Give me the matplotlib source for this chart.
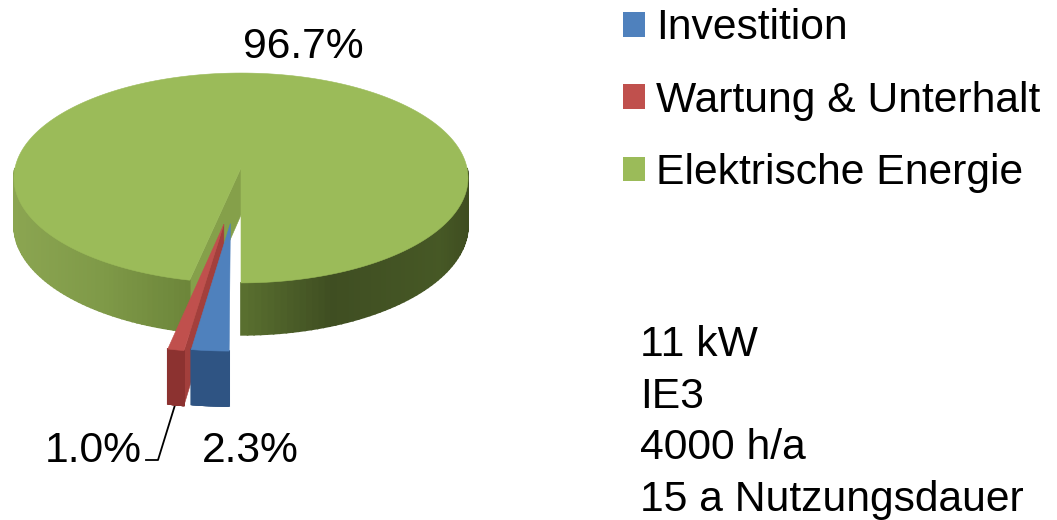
import math
import matplotlib
matplotlib.use('Agg')
import matplotlib.pyplot as plt
from matplotlib.patches import Patch

names = ['Investition', 'Wartung & Unterhalt', 'Elektrische Energie']
shares = [2.3, 1.0, 96.7]
share_labels = ['2.3%', '1.0%', '96.7%']
notes = ['11 kW', 'IE3', '4000 h/a', '15 a Nutzungsdauer']

top_colors = ['#4f81bd', '#c0504d', '#9bbb59']
front_colors = ['#2f5483', '#8c3230', '#6c853a']
cut_colors = ['#3f6ca3', '#a33f3c', '#85a04a']

# Seitenwand gruen: (x in Pixel, Farbe)
wall_stops = [(14, '#8ba551'), (100, '#7f9a48'), (190, '#6c853a'), (241, '#5a7030'),
              (330, '#3f4e22'), (440, '#465825'), (468, '#3f4d20')]

CX, CY = 241, 168   # Mitte der Torte
R = 226
SQUASH = 104        # Hoehe der Ellipse
PERSP = 0.095
DEPTH = 47
EXPLODE = [0.51, 0.52, 0.0]
NUDGE = [0.9, -2.1, 0.0]    # Richtung der Explosion, Grad


def project(a, r, e_a, e, z=0):
    # a im Uhrzeigersinn von oben, Grad
    u = r * math.sin(math.radians(a)) + e * math.sin(math.radians(e_a))
    v = -r * math.cos(math.radians(a)) - e * math.cos(math.radians(e_a))
    s = 1 / (1 - PERSP * v)
    return CX + R * u * s, CY + SQUASH * v * s + z * DEPTH * s


def wall_color(x):
    for (x0, c0), (x1, c1) in zip(wall_stops, wall_stops[1:]):
        if x <= x1:
            t = max(0, (x - x0) / (x1 - x0))
            a = matplotlib.colors.to_rgb(c0)
            b = matplotlib.colors.to_rgb(c1)
            return [a[i] + (b[i] - a[i]) * t for i in range(3)]
    return wall_stops[-1][1]


def draw_poly(ax, pts, color, zorder, lw=0.4):
    ax.fill([p[0] for p in pts], [p[1] for p in pts], color=color, lw=lw, zorder=zorder)


def steps(a0, a1, n):
    return [a0 + (a1 - a0) * i / n for i in range(n + 1)]


fig = plt.figure(figsize=(10.57, 5.20), dpi=100)
ax = fig.add_axes([0, 0, 1, 1])
ax.set_xlim(0, 1057)
ax.set_ylim(520, 0)
ax.axis('off')
plt.rcParams['font.family'] = ['Liberation Sans', 'DejaVu Sans']

# Winkel aus den Werten, erstes Stueck beginnt unten
start = 180
order = [2, 1, 0]   # von hinten nach vorne
angles = {}
for i, v in enumerate(shares):
    angles[i] = (start, start + v * 3.6)
    start += v * 3.6

for z, i in enumerate(order):
    a0, a1 = angles[i]
    mid = (a0 + a1) / 2 + NUDGE[i]
    e = EXPLODE[i]
    base = 2 + z * 5

    # Schnittflaeche links (sichtbar bei a0 > 180)
    if a0 > 180:
        pts = [project(a0, 0, mid, e), project(a0, 1, mid, e), project(a0, 1, mid, e, 1), project(a0, 0, mid, e, 1)]
        draw_poly(ax, pts, cut_colors[i], base)

    # Aussenwand, nur die vordere Haelfte
    if i == 2:
        arcs = [(a0, 270), (90, 180)]
    else:
        arcs = [(a0, a1)]
    for lo, hi in arcs:
        angs = steps(lo, hi, 60)
        for b0, b1 in zip(angs, angs[1:]):
            p0 = project(b0, 1, mid, e)
            p1 = project(b1, 1, mid, e)
            q0 = project(b0, 1, mid, e, 1)
            q1 = project(b1, 1, mid, e, 1)
            col = wall_color((p0[0] + p1[0]) / 2) if i == 2 else front_colors[i]
            draw_poly(ax, [p0, p1, q1, q0], col, base + 1, lw=1.2)

    # Oberflaeche
    pts = [project(0, 0, mid, e)] + [project(a, 1, mid, e) for a in steps(a0, a1, 240)]
    draw_poly(ax, pts, top_colors[i], base + 2)

# Beschriftung
FS = 30.7
ax.text(303.5, 47, share_labels[2], fontsize=FS, ha='center', va='center', color='black', zorder=30)
ax.text(93.5, 451, share_labels[1], fontsize=FS, ha='center', va='center', color='black', zorder=30)
ax.text(250, 451, share_labels[0], fontsize=FS, ha='center', va='center', color='black', zorder=30)
ax.plot([175, 158, 146], [405, 460, 460], color='black', lw=1.3, zorder=1)

handles = [Patch(facecolor=c, edgecolor='none') for c in top_colors]
ax.legend(handles, names, loc='upper left', bbox_to_anchor=(619, 4), bbox_transform=ax.transData,
          frameon=False, fontsize=FS, handlelength=0.52, handleheight=0.52,
          handletextpad=0.25, labelspacing=0.76, borderpad=0.1, borderaxespad=0)

for i, line in enumerate(notes):
    ax.text(640, 356 + i * 51.7, line, fontsize=FS, ha='left', va='baseline', color='black')

fig.savefig('out.png', dpi=100)
